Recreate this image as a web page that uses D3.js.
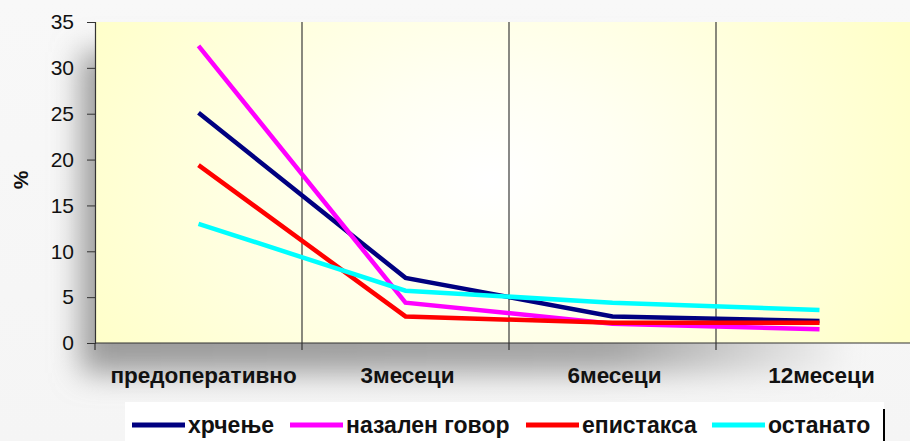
<!DOCTYPE html>
<html>
<head>
<meta charset="utf-8">
<script src="https://cdn.jsdelivr.net/npm/d3@7/dist/d3.min.js"></script>
<style>
  html, body { margin: 0; padding: 0; background: #fafafa; }
  svg { display: block; font-family: "Liberation Sans", Arial, sans-serif; }
</style>
</head>
<body>
<svg id="chart" width="910" height="441"></svg>
<script>
// Categories (follow-up periods)
const categories = ["предоперативно", "3месеци", "6месеци", "12месеци"];
// Series values, %
const snoring   = [25.1, 7.1, 2.9, 2.4];   // хрчење
const nasal     = [32.4, 4.4, 2.1, 1.5];   // назален говор
const epistaxis = [19.4, 2.9, 2.2, 2.2];   // епистакса
const other     = [13.0, 5.7, 4.4, 3.6];   // останато
const yTicks = [0, 5, 10, 15, 20, 25, 30, 35];

const series = [
  { name: "хрчење", values: snoring, color: "#000080" },
  { name: "назален говор", values: nasal, color: "#ff00ff" },
  { name: "епистакса", values: epistaxis, color: "#ff0000" },
  { name: "останато", values: other, color: "#00ffff" }
];

const svg = d3.select("#chart");
const W = 910, H = 441;
const plot = { left: 95, top: 22, right: 923, bottom: 343 };
const FONT = "'Liberation Sans', Arial, sans-serif";

const defs = svg.append("defs");
const bg = defs.append("linearGradient").attr("id", "bgGrad")
  .attr("x1", 0).attr("y1", 0).attr("x2", 0).attr("y2", 1);
bg.append("stop").attr("offset", "0%").attr("stop-color", "#f8f8f8");
bg.append("stop").attr("offset", "100%").attr("stop-color", "#f5f5f5");

const rad = defs.append("radialGradient").attr("id", "plotGrad")
  .attr("gradientUnits", "userSpaceOnUse")
  .attr("cx", 490).attr("cy", 180).attr("r", 460)
  .attr("gradientTransform", "translate(490,180) scale(1,0.75) translate(-490,-180)");
rad.append("stop").attr("offset", "0%").attr("stop-color", "#ffffff");
rad.append("stop").attr("offset", "30%").attr("stop-color", "#fffff2");
rad.append("stop").attr("offset", "100%").attr("stop-color", "#ffffc8");

const blur = defs.append("filter").attr("id", "shadowBlur")
  .attr("x", "-30%").attr("y", "-30%").attr("width", "160%").attr("height", "160%");
blur.append("feGaussianBlur").attr("stdDeviation", 15);

const shadeGrad = defs.append("linearGradient").attr("id", "shadeGrad")
  .attr("x1", 0).attr("y1", 0).attr("x2", 1).attr("y2", 0);
shadeGrad.append("stop").attr("offset", "0%").attr("stop-color", "#9a9a9a");
shadeGrad.append("stop").attr("offset", "70%").attr("stop-color", "#a4a4a4");
shadeGrad.append("stop").attr("offset", "100%").attr("stop-color", "#f0f0f0");

// page background and soft shadow behind the plot area
svg.append("rect").attr("width", W).attr("height", H).attr("fill", "url(#bgGrad)");
svg.append("rect")
  .attr("x", plot.left - 14).attr("y", plot.top + 30)
  .attr("width", 760).attr("height", plot.bottom - plot.top)
  .attr("fill", "url(#shadeGrad)")
  .attr("filter", "url(#shadowBlur)");

const x = d3.scaleBand().domain(categories).range([plot.left, plot.right]).padding(0);
const y = d3.scaleLinear().domain([0, 35]).range([plot.bottom, plot.top]);

// plot area
svg.append("rect")
  .attr("x", plot.left).attr("y", plot.top)
  .attr("width", plot.right - plot.left).attr("height", plot.bottom - plot.top)
  .attr("fill", "url(#plotGrad)");

// vertical gridlines at category boundaries
svg.append("g")
  .selectAll("line")
  .data(categories.slice(1))
  .join("line")
  .attr("x1", d => x(d)).attr("x2", d => x(d))
  .attr("y1", plot.top).attr("y2", plot.bottom)
  .attr("stroke", "#3a3a3a").attr("stroke-width", 1.2);

// y axis
const yAxis = svg.append("g")
  .attr("transform", `translate(${plot.left},0)`)
  .call(d3.axisLeft(y).tickValues(yTicks).tickSize(8).tickPadding(13).tickFormat(d3.format("d")));
yAxis.select(".domain").attr("stroke", "#333").attr("stroke-width", 1.2);
yAxis.selectAll(".tick line").attr("stroke", "#333");
yAxis.selectAll("text")
  .attr("font-size", 21).attr("fill", "#111")
  .attr("font-family", FONT);

// x axis
const xAxis = svg.append("g")
  .attr("transform", `translate(0,${plot.bottom})`)
  .call(d3.axisBottom(x).tickSize(0).tickPadding(24));
xAxis.select(".domain").remove();
xAxis.selectAll("text")
  .attr("font-size", 22.5).attr("font-weight", "bold").attr("fill", "#111")
  .attr("font-family", FONT)
  .attr("dx", d => d === "предоперативно" ? 5 : 2);
svg.append("line")
  .attr("x1", plot.left).attr("x2", W)
  .attr("y1", plot.bottom).attr("y2", plot.bottom)
  .attr("stroke", "#333").attr("stroke-width", 1.2);
svg.append("g")
  .selectAll("line")
  .data(categories)
  .join("line")
  .attr("x1", d => x(d)).attr("x2", d => x(d))
  .attr("y1", plot.bottom).attr("y2", plot.bottom + 7)
  .attr("stroke", "#333").attr("stroke-width", 1.2);

// y axis title
svg.append("text")
  .attr("transform", "translate(28,180) rotate(-90)")
  .attr("text-anchor", "middle")
  .attr("font-size", 21).attr("font-weight", "bold").attr("fill", "#111")
  .text("%");

// series lines
const line = d3.line()
  .x((d, i) => x(categories[i]) + x.bandwidth() / 2)
  .y(d => y(d));

svg.append("g")
  .selectAll("path")
  .data(series)
  .join("path")
  .attr("d", s => line(s.values))
  .attr("fill", "none")
  .attr("stroke", s => s.color)
  .attr("stroke-width", 4.5)
  .attr("stroke-linejoin", "miter");

// legend
const legend = svg.append("g");
legend.append("rect")
  .attr("x", 125).attr("y", 402).attr("width", 759).attr("height", 45)
  .attr("fill", "#ffffff");
legend.append("line")
  .attr("x1", 884).attr("x2", 884).attr("y1", 409).attr("y2", 441)
  .attr("stroke", "#000").attr("stroke-width", 2);

const legendX = [132, 290, 526, 712];
const items = legend.selectAll("g.item")
  .data(series)
  .join("g")
  .attr("class", "item")
  .attr("transform", (d, i) => `translate(${legendX[i]},425)`);
items.append("line")
  .attr("x1", 0).attr("x2", 53)
  .attr("stroke", d => d.color).attr("stroke-width", 5);
items.append("text")
  .attr("x", 56).attr("y", 8)
  .attr("font-size", 23).attr("font-weight", "bold").attr("fill", "#111")
  .attr("font-family", FONT)
  .text(d => d.name);
</script>
</body>
</html>
